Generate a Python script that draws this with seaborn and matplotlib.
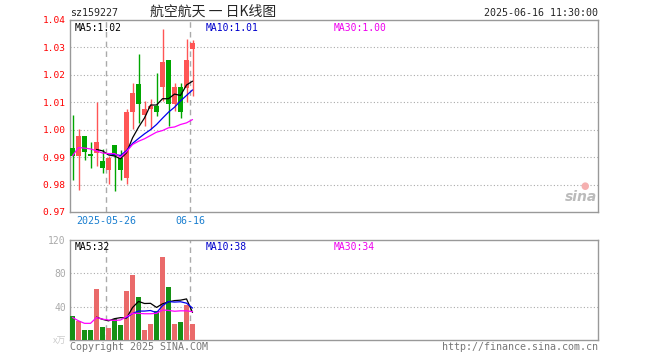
import numpy as np
import pandas as pd
import matplotlib
matplotlib.use("Agg")
import matplotlib.pyplot as plt
import seaborn as sns

# --- data ---
dates = ['05-16', '05-19', '05-20', '05-21', '05-22', '05-23', '05-26', '05-27', '05-28', '05-29',
         '05-30', '06-03', '06-04', '06-05', '06-06', '06-09', '06-10', '06-11', '06-12', '06-13', '06-16']
opens = [0.9935, 0.9903, 0.9976, 0.9913, 0.9915, 0.9885, 0.9854, 0.9943, 0.9897, 0.9824, 1.0065,
         1.0166, 1.0053, 1.0074, 1.0086, 1.0157, 1.0255, 1.0092, 1.0156, 1.0153, 1.0296]
highs = [1.0055, 1.0003, 0.9976, 0.9955, 1.0102, 0.9930, 0.9903, 0.9943, 0.9926, 1.0074, 1.0170,
         1.0275, 1.0105, 1.0113, 1.0205, 1.0367, 1.0255, 1.0170, 1.0172, 1.0330, 1.0328]
lows = [0.9818, 0.9779, 0.9890, 0.9860, 0.9868, 0.9842, 0.9802, 0.9778, 0.9815, 0.9801, 1.0001,
        1.0025, 1.0012, 1.0001, 1.0050, 1.0105, 1.0013, 1.0070, 1.0044, 1.0100, 1.0124]
closes = [0.9903, 0.9976, 0.9920, 0.9903, 0.9956, 0.9862, 0.9897, 0.9903, 0.9854, 1.0064, 1.0133,
          1.0092, 1.0074, 1.0088, 1.0065, 1.0247, 1.0092, 1.0156, 1.0064, 1.0255, 1.0316]

ma5 = [np.nan] * 4 + [0.9928, 0.9923, 0.9908, 0.9904, 0.9894, 0.9916, 0.9970, 1.0009, 1.0043,
                      1.0090, 1.0090, 1.0113, 1.0113, 1.0130, 1.0125, 1.0163, 1.0177]
ma10 = [np.nan] * 6 + [0.9912, 0.9910, 0.9906, 0.9924, 0.9950, 0.9968, 0.9985, 1.0000, 1.0019,
                       1.0042, 1.0064, 1.0082, 1.0105, 1.0125, 1.0145]
ma30 = [0.9905, 0.9935, 0.9933, 0.9930, 0.9923, 0.9915, 0.9913, 0.9913, 0.9900, 0.9920, 0.9946,
        0.9958, 0.9967, 0.9979, 0.9991, 0.9997, 1.0007, 1.0010, 1.0019, 1.0025, 1.0037]

volume = [28.8, 23.2, 12, 12, 61.2, 15.6, 14.4, 24.8, 18, 58.8, 78.4,
          51.6, 12, 19.2, 34.4, 100, 63.6, 19.2, 21.6, 42, 19.2]
vol_ma5 = [np.nan] * 4 + [27.4, 24.8, 23.0, 25.6, 26.8, 26.3, 38.9, 46.3, 43.8, 44.0, 39.1,
                          43.4, 45.8, 47.3, 47.8, 49.3, 33.1]
vol_ma10 = [np.nan] * 9 + [26.9, 31.8, 34.7, 34.7, 35.4, 32.7, 41.2, 46.1, 45.5, 45.9, 44.2, 38.3]
vol_ma30 = [27, 23, 20, 20, 27, 25, 24, 23.5, 24, 28, 32, 32, 31.5, 31.5, 32, 36, 35.5, 34.5, 35, 35, 34]

price_ticks = [0.97, 0.98, 0.99, 1.00, 1.01, 1.02, 1.03, 1.04]
vol_ticks = [40, 80, 120]
date_ticks = {6: '2025-05-26', 20: '06-16'}

RED = '#ff5555'
GREEN = '#00a600'
FRAME = '#999999'
MONO = ['DejaVu Sans Mono']
CJK = ['Noto Sans CJK SC', 'DejaVu Sans']

df = pd.DataFrame({'i': np.arange(len(dates)), 'open': opens, 'high': highs, 'low': lows,
                   'close': closes, 'vol': volume})
df['up'] = df['close'] >= df['open']
df['color'] = np.where(df['up'], RED, GREEN)

sns.set_theme(style='white')
plt.rcParams['font.family'] = MONO

fig = plt.figure(figsize=(6.6, 3.6), dpi=100)
ax = fig.add_axes([70 / 660, 1 - 212 / 360, 528 / 660, 192 / 360])
axv = fig.add_axes([70 / 660, 1 - 340 / 360, 528 / 660, 100 / 360])

bw = 0.8
xlim = (-0.42, 87.58)

# --- candles ---
ax.vlines(df['i'], df['low'], df['high'], colors=df['color'], linewidth=1, zorder=2)
body_lo = np.minimum(df['open'], df['close'])
body_h = np.abs(df['close'] - df['open']).clip(lower=0.0003)
ax.bar(df['i'], body_h, bottom=body_lo, width=bw, color=df['color'], linewidth=0, zorder=3)

ma_df = pd.DataFrame({'i': df['i'], 'ma5': ma5, 'ma10': ma10, 'ma30': ma30})
sns.lineplot(data=ma_df, x='i', y='ma5', ax=ax, color='black', linewidth=0.9, zorder=4)
sns.lineplot(data=ma_df, x='i', y='ma10', ax=ax, color='#0000ee', linewidth=0.9, zorder=4)
sns.lineplot(data=ma_df, x='i', y='ma30', ax=ax, color='#ff00ff', linewidth=0.9, zorder=5)

ax.set_xlim(*xlim)
ax.set_ylim(0.97, 1.04)
ax.set_yticks(price_ticks)
ax.set_yticklabels([f'{t:.2f}' for t in price_ticks], color='red', fontsize=6.8)
for t in price_ticks[1:-1]:
    ax.axhline(t, color='#aaaaaa', linestyle=(0, (1, 2)), linewidth=0.8, zorder=1)
pos = [k - 0.42 for k in date_ticks]
ax.set_xticks(pos)
ax.set_xticklabels(list(date_ticks.values()), color='#1a7fd0', fontsize=7.2)
for p in pos:
    ax.axvline(p, color='#aaaaaa', linestyle=(0, (4, 3)), linewidth=1, zorder=1)
ax.tick_params(length=0, pad=3)
ax.set_xlabel('')
ax.set_ylabel('')

ax.text(0.008, 0.985, 'MA5:1.02', transform=ax.transAxes, color='black', fontsize=7, va='top')
ax.text(0.256, 0.985, 'MA10:1.01', transform=ax.transAxes, color='#0000cc', fontsize=7, va='top')
ax.text(0.50, 0.985, 'MA30:1.00', transform=ax.transAxes, color='#ee00ee', fontsize=7, va='top')
ax.text(0.998, 0.04, 'sina', transform=ax.transAxes, color='#bbbbbb', fontsize=10,
        fontstyle='italic', fontweight='bold', ha='right', va='bottom', family=['DejaVu Sans'])
ax.text(0.975, 0.135, '●', transform=ax.transAxes, color='#f5b0b0', fontsize=7,
        ha='center', va='center', family=['DejaVu Sans'])

# --- volume ---
sns.barplot(data=df, x='i', y='vol', hue='i', palette=list(df['color']), native_scale=True,
            width=bw, legend=False, ax=axv, linewidth=0, zorder=3)
vm = pd.DataFrame({'i': df['i'], 'm5': vol_ma5, 'm10': vol_ma10, 'm30': vol_ma30})
sns.lineplot(data=vm, x='i', y='m5', ax=axv, color='black', linewidth=0.9, zorder=4)
sns.lineplot(data=vm, x='i', y='m10', ax=axv, color='#0000ee', linewidth=0.9, zorder=4)
sns.lineplot(data=vm, x='i', y='m30', ax=axv, color='#ff00ff', linewidth=0.9, zorder=5)
axv.set_xlim(*xlim)
axv.set_ylim(0, 120)
axv.set_yticks(vol_ticks)
axv.set_yticklabels([str(t) for t in vol_ticks], color='#aaaaaa', fontsize=7)
for t in vol_ticks[:-1]:
    axv.axhline(t, color='#aaaaaa', linestyle=(0, (1, 2)), linewidth=0.8, zorder=1)
for p in pos:
    axv.axvline(p, color='#aaaaaa', linestyle=(0, (4, 3)), linewidth=1, zorder=1)
axv.set_xticks([])
axv.tick_params(length=0, pad=3)
axv.set_xlabel('')
axv.set_ylabel('')
axv.text(0.008, 0.975, 'MA5:32', transform=axv.transAxes, color='black', fontsize=7, va='top')
axv.text(0.256, 0.975, 'MA10:38', transform=axv.transAxes, color='#0000cc', fontsize=7, va='top')
axv.text(0.50, 0.975, 'MA30:34', transform=axv.transAxes, color='#ee00ee', fontsize=7, va='top')

for a in (ax, axv):
    for s in a.spines.values():
        s.set_color(FRAME)
        s.set_linewidth(1)

# --- header / footer ---
fig.text(70 / 660, 1 - 13 / 360, 'sz159227', fontsize=7.2, va='center', ha='left')
fig.text(213 / 660, 1 - 12 / 360, '航空航天 一 日K线图', fontsize=10, va='center', ha='center',
         family=CJK)
fig.text(598 / 660, 1 - 13 / 360, '2025-06-16 11:30:00', fontsize=7.2, va='center', ha='right')
fig.text(66 / 660, 1 - 341 / 360, 'x万', fontsize=6.5, va='center', ha='right', color='#cccccc',
         family=CJK)
fig.text(70 / 660, 1 - 347 / 360, 'Copyright 2025 SINA.COM', fontsize=7.2, va='center',
         ha='left', color='#777777')
fig.text(598 / 660, 1 - 347 / 360, 'http://finance.sina.com.cn', fontsize=7.2, va='center',
         ha='right', color='#777777')

fig.savefig('out.png', dpi=100)
